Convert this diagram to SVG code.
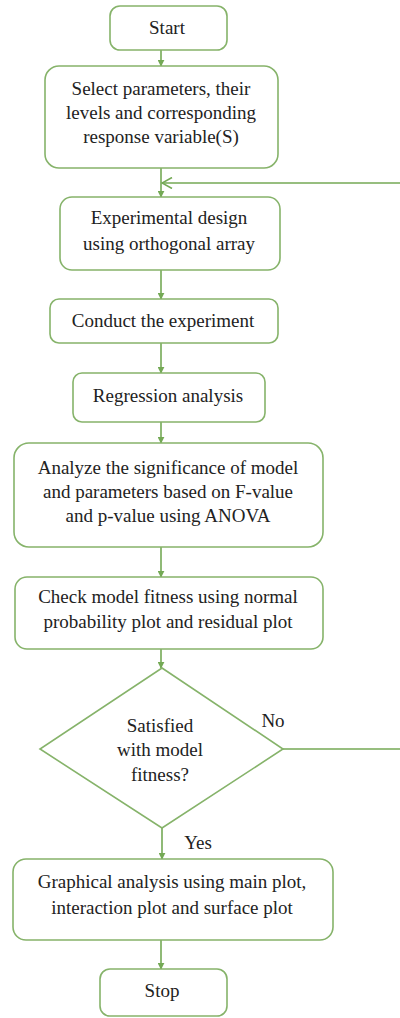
<svg xmlns="http://www.w3.org/2000/svg" width="400" height="1018" viewBox="0 0 400 1018">
  <defs>
    <marker id="arrow" viewBox="0 0 10 10" refX="9" refY="5" markerWidth="7" markerHeight="7" markerUnits="userSpaceOnUse" orient="auto">
      <path d="M0,0 L10,5 L0,10 Z" fill="#74a955"/>
    </marker>
    <marker id="open" viewBox="0 0 12 12" refX="11" refY="6" markerWidth="12" markerHeight="12" markerUnits="userSpaceOnUse" orient="auto">
      <path d="M1,0.5 L11,6 L1,11.5" fill="none" stroke="#74a955" stroke-width="1.6"/>
    </marker>
    <style>
      .box { fill: #ffffff; stroke: #86b36a; stroke-width: 1.6; }
      .edge { fill: none; stroke: #74a955; stroke-width: 1.6; }
      .label { font-size: 19px; fill: #222222; text-anchor: middle; }
    </style>
  </defs>
  <rect width="400" height="1018" fill="#ffffff"/>

  <g id="connectors">
    <path class="edge" d="M161,50 V66" marker-end="url(#arrow)"/>
    <path class="edge" d="M161,168 V197" marker-end="url(#arrow)"/>
    <path class="edge" d="M161,270 V299" marker-end="url(#arrow)"/>
    <path class="edge" d="M161,343 V373" marker-end="url(#arrow)"/>
    <path class="edge" d="M161,422 V443" marker-end="url(#arrow)"/>
    <path class="edge" d="M161,547 V577" marker-end="url(#arrow)"/>
    <path class="edge" d="M161,649 V668" marker-end="url(#arrow)"/>
    <path class="edge" d="M162,828 V859" marker-end="url(#arrow)"/>
    <path class="edge" d="M161,940 V969" marker-end="url(#arrow)"/>
    <!-- loop back from the decision to the experimental design step -->
    <path class="edge" d="M283,749 H400"/>
    <path class="edge" d="M400,183 H162" marker-end="url(#open)"/>
  </g>

  <g font-family="Liberation Serif, Times New Roman, DejaVu Serif, serif">
  <g id="start">
    <rect class="box" x="110" y="6" width="117" height="44" rx="10"/>
    <text class="label" x="167" y="34">Start</text>
  </g>

  <g id="select">
    <rect class="box" x="45" y="66" width="233" height="102" rx="14"/>
    <text class="label" x="161" y="95">Select parameters, their</text>
    <text class="label" x="161" y="119">levels and corresponding</text>
    <text class="label" x="161" y="143">response variable(S)</text>
  </g>

  <g id="design">
    <rect class="box" x="60" y="197" width="220" height="73" rx="12"/>
    <text class="label" x="169" y="224">Experimental design</text>
    <text class="label" x="169" y="250">using orthogonal array</text>
  </g>

  <g id="conduct">
    <rect class="box" x="50" y="299" width="228" height="44" rx="9"/>
    <text class="label" x="163" y="327">Conduct the experiment</text>
  </g>

  <g id="regression">
    <rect class="box" x="73" y="373" width="192" height="49" rx="9"/>
    <text class="label" x="168" y="402">Regression analysis</text>
  </g>

  <g id="anova">
    <rect class="box" x="14" y="443" width="309" height="104" rx="15"/>
    <text class="label" x="168" y="474">Analyze the significance of model</text>
    <text class="label" x="168" y="498">and parameters based on F-value</text>
    <text class="label" x="168" y="522">and p-value using ANOVA</text>
  </g>

  <g id="fitness">
    <rect class="box" x="15" y="577" width="308" height="72" rx="12"/>
    <text class="label" x="168" y="603">Check model fitness using normal</text>
    <text class="label" x="168" y="628">probability plot and residual plot</text>
  </g>

  <g id="decision">
    <path class="box" d="M162,668 L283,749 L162,828 L40,749 Z"/>
    <text class="label" x="160" y="732">Satisfied</text>
    <text class="label" x="160" y="756">with model</text>
    <text class="label" x="160" y="781">fitness?</text>
    <text class="label" x="273" y="727">No</text>
    <text class="label" x="198" y="849">Yes</text>
  </g>

  <g id="graphical">
    <rect class="box" x="13" y="859" width="320" height="81" rx="13"/>
    <text class="label" x="172" y="888">Graphical analysis using main plot,</text>
    <text class="label" x="172" y="914">interaction plot and surface plot</text>
  </g>

  <g id="stop">
    <rect class="box" x="100" y="969" width="127" height="47" rx="10"/>
    <text class="label" x="162" y="997">Stop</text>
  </g>
  </g>
</svg>
